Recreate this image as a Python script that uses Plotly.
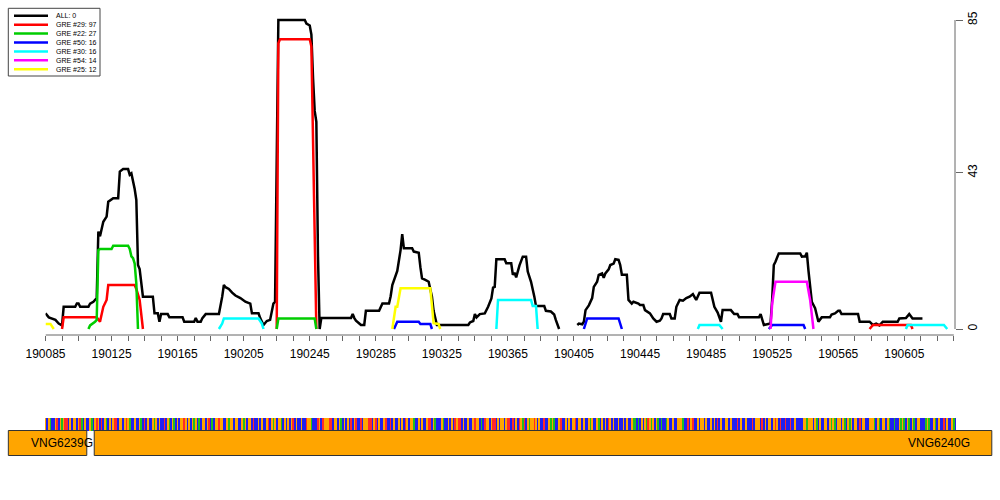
import plotly.graph_objects as go

# ---------------- data ----------------
all_x = [190085,190087,190091,190093,190095,190096,190103,190104,190105,190106,
         190111,190112,190114,190116,190117,190118,190119,190120,190122,190123,
         190126,190129,190130,190132,190135,190136,190137,190138,190139,190140,
         190141,190142,190144,190150,190151,190153,190154,190155,190159,190160,
         190168,190169,190175,190176,190177,190179,190180,190182,190190,190192,
         190193,190194,190196,190198,190200,190203,190206,190209,190210,190214,
         190215,190217,190219,190221,190222,190223,190224,190226,190242,190243,
         190245,190246,190247,190248,190249,190250,190251,190252,190270,190271,
         190272,190273,190275,190276,190278,190279,190287,190289,190293,190294,
         190295,190296,190298,190300,190301,190302,190307,190308,190311,190312,
         190313,190315,190317,190319,190320,190322,190341,190342,190344,190345,
         190346,190348,190351,190353,190355,190356,190357,190358,190363,190364,
         190367,190368,190369,190370,190372,190374,190376,190377,190379,190381,
         190382,190387,190388,190391,190393,190394,190395,190396,190400,190407,
         190408,190410,190411,190412,190414,190416,190417,190419,190420,190422,
         190423,190424,190426,190427,190429,190430,190432,190433,190434,190437,
         190438,190440,190441,190444,190445,190447,190448,190451,190453,190455,
         190457,190458,190459,190463,190464,190466,190467,190469,190471,190473,
         190475,190477,190478,190479,190481,190488,190490,190492,190494,190495,
         190500,190502,190504,190505,190517,190518,190520,190522,190524,190525,
         190526,190527,190529,190542,190543,190545,190546,190547,190549,190551,
         190553,190555,190560,190561,190563,190565,190566,190567,190570,190577,
         190578,190584,190586,190588,190590,190592,190601,190602,190606,190608,
         190610,190616]
all_y = [4.3,3.2,2.5,1.5,1.0,6.1,6.1,7.0,7.0,6.1,
         6.1,7.0,7.5,8.5,26.8,25.5,27.5,29.5,30.9,35.0,
         36.0,36.0,43.3,44.0,44.0,42.4,42.8,41.0,38.5,35.5,
         17.6,16.5,8.9,8.9,4.3,4.3,2.0,4.1,4.1,3.2,
         3.2,2.0,2.0,3.0,2.0,2.0,3.0,4.1,4.1,8.9,
         12.1,11.5,11.0,10.0,9.2,8.5,7.5,7.0,4.3,4.3,
         3.0,1.1,2.2,2.5,5.0,7.0,7.5,85,85,84,
         83.5,81,69,60,57,20,0,3.0,3.0,4.1,
         3.0,2.3,1.5,1.1,1.1,5.0,5.0,7.0,7.0,9.0,
         12.1,13.5,16.0,21.7,26.1,22.2,22.2,21.3,21.0,17.0,
         13.9,13.5,13.0,8.9,5.0,1.1,1.1,1.8,2.2,4.1,
         3.2,4.1,4.3,6.1,8.4,11.4,11.6,19.2,19.2,18.1,
         18.1,14.9,15.5,14.2,17.5,19.9,19.9,15.8,13.0,8.9,
         6.3,6.3,5.0,4.8,4.0,2.5,1.1,0,None,1.1,
         1.5,1.3,2.0,5.2,6.5,8.5,11.6,13.0,14.9,15.3,
         14.1,15.3,16.4,17.6,18.0,19.2,19.0,17.6,14.9,14.9,
         8.0,7.0,7.5,7.0,6.6,6.6,5.2,4.3,2.9,2.0,
         2.3,2.9,4.1,4.1,2.9,2.9,6.1,8.0,7.8,8.5,
         8.9,9.6,8.9,8.0,10.0,10.0,6.1,4.5,2.0,5.2,
         5.2,4.1,4.1,3.2,3.2,4.1,1.1,1.3,1.5,8.0,
         17.6,18.5,20.8,20.8,19.9,20.0,21.0,16.0,7.5,5.7,
         2.0,3.2,3.2,4.0,4.3,5.0,5.0,4.1,4.1,4.1,
         2.0,2.0,1.1,1.5,1.0,2.0,2.0,2.9,3.0,4.1,
         2.9,2.9]

gre29_x = [190095,190096,190116,190118,190120,190122,190123,190139,190140,190142,190144,
           190180,
           190225,190226,190227,190245,190246,190247,190249,
           190400,
           190584,190586,190606,190609,190610]
gre29_y = [0,3.2,3.2,2.0,6.1,8.0,12.1,12.1,11.0,8.0,0,
           None,
           0,78.6,79.7,79.7,77.7,51,0,
           None,
           0,1.1,1.1,1.1,0]

gre22_x = [190111,190112,190115,190116,190117,190118,190125,190126,190135,190136,
           190137,190138,190139,190140,190141,
           190180,
           190225,190226,190248,190249]
gre22_y = [0,1.0,2.0,2.5,21.7,22.0,22.0,22.9,22.9,22.0,
           20.0,19.5,18.0,12.5,0,
           None,
           0,2.9,2.9,0]

gre50_x = [190296,190298,190311,190312,190318,190319,
           190360,
           190411,190413,190432,190433,190434,
           190480,
           190523,190525,190544,190545]
gre50_y = [0,2.0,2.0,1.4,1.4,0,
           None,
           0,2.9,2.9,1.5,0,
           None,
           0,1.1,1.1,0]

gre30_x = [190190,190192,190193,190214,190216,190217,
           190300,
           190358,190359,190379,190380,190382,190383,
           190430,
           190480,190481,190493,190495,
           190550,
           190606,190607,190629,190631]
gre30_y = [0,1.5,2.9,2.9,1.5,0,
           None,
           0,8.0,8.0,6.3,6.3,0,
           None,
           0,1.1,1.1,0,
           None,
           0,1.1,1.1,0]

gre54_x = [190524,190525,190527,190546,190548,190550]
gre54_y = [0,7.0,13.0,13.0,8.0,0]

gre25_x = [190085,190088,190090,
           190200,
           190295,190297,190298,190300,190318,190319,190320,190323,190324]
gre25_y = [1.4,1.4,0,
           None,
           0,6.1,6.1,11.2,11.2,6.0,1.6,1.4,0]

series_names = ["ALL: 0", "GRE #29: 97", "GRE #22: 27", "GRE #50: 16",
                "GRE #30: 16", "GRE #54: 14", "GRE #25: 12"]
series_colors = ["#000000", "#FF0000", "#00CD00", "#0000FF",
                 "#00FFFF", "#FF00FF", "#FFFF00"]
series_x = [all_x, gre29_x, gre22_x, gre50_x, gre30_x, gre54_x, gre25_x]
series_y = [all_y, gre29_y, gre22_y, gre50_y, gre30_y, gre54_y, gre25_y]

y_ticks = [0, 43, 85]
x_tick_start, x_tick_end, x_tick_step, x_label_step = 190085, 190635, 10, 40

gene_names = ["VNG6239G", "VNG6240G"]
gene_start = [190062.5, 190114.5]
gene_end = [190110, 190658]
gene_label_x = [190095, 190626]

seq_start = 190085
sequence = ("GCGACCGTCGAGTTCGCGGCGTACGCCGACGTGCTCGACGCGTTCGGCGTGACCGCCGAC"
            "TCGCCGAGCGCCTCGACGACGCGGTGCGCGAGCACGGCGTCACGGTGGCCGAGGCGGCCG"
            "AGCGGCTCCGCGCCGTCGAGCGGACGCGCGTCGCCGCCTGGACCCTGCTGGGTTCGGCGA"
            "CGCGCTCGTCCTCGGGTTCGTCGCCGTCCTCGCCGCGCTGCGGACCGCGCCGTTCGACCC"
            "GACCGCGCTGTTCGCCGCCGTGGCACTGGCGTTCGCGGCGTTCTCGCTGATCGAGGTGCG"
            "CCTCCGAGACCGTCCGCGCGGTCGGCGCCGAGCCGACGCGCTGCGCCGCCGCGCCGAACA"
            "CGCGATGAGCGACACCAGCCGCCGGGACCTCGTCCGCGGCGCCGCGCTCGCCGGCGCCCT"
            "CGCCGCCCTCGGGCTCGCGGCGTGCTCCTCCTCCGCCCCGGAGGGCGACGCCGGCGAGAC"
            "GGCGACGAGCGGCTCGGCCGGGACGACGGCGACCACCGAGACGACGACGGCCCAGACCGA"
            "CGCCTCGCCGAC")
base_colors = {"A": "#1FBF1F", "C": "#2020F0", "G": "#FFA500", "T": "#FF2A2A"}

# ---------------- figure ----------------
FONT = "Liberation Sans, Arial, Helvetica, sans-serif"
W, H = 1000, 500
px_per_unit = 1.6515
x_left_px, x_right_px = 45.5, 955.0

fig = go.Figure()

for xs, ys, c in zip(series_x, series_y, series_colors):
    fig.add_trace(go.Scatter(x=xs, y=ys, mode="lines",
                             line=dict(color=c, width=2.5),
                             connectgaps=False, hoverinfo="skip",
                             xaxis="x", yaxis="y"))

# sequence strip
seq_x = [seq_start + i for i in range(len(sequence))]
fig.add_trace(go.Bar(x=seq_x, y=[12.5] * len(sequence), base=25.5, width=1,
                     marker=dict(color=[base_colors[b] for b in sequence],
                                 line=dict(width=0)),
                     hoverinfo="skip", xaxis="x2", yaxis="y2"))

# genes
fig.add_trace(go.Bar(orientation="h", y=[13, 13],
                     x=[e - s for s, e in zip(gene_start, gene_end)],
                     base=gene_start, width=[25, 25],
                     marker=dict(color="#FFA500", line=dict(color="#333333", width=1)),
                     hoverinfo="skip", xaxis="x2", yaxis="y2"))

tickvals = list(range(x_tick_start, x_tick_end + 1, x_tick_step))
ticktext = [str(v) if (v - x_tick_start) % x_label_step == 0 else "" for v in tickvals]

x_range = [x_tick_start, x_tick_start + (x_right_px - x_left_px) / px_per_unit]
x2_range = [x_tick_start - x_left_px / px_per_unit,
            x_tick_start + (W - x_left_px) / px_per_unit]

y_top_px, y_bot_px = 16.36, 335.0

shapes = [
    dict(type="line", xref="x", yref="paper", x0=x_tick_start, x1=x_tick_end,
         y0=1 - y_bot_px / H, y1=1 - y_bot_px / H, line=dict(color="#666666", width=1)),
    dict(type="line", xref="paper", yref="y", x0=x_right_px / W, x1=x_right_px / W,
         y0=0, y1=85, line=dict(color="#666666", width=1)),
    # legend box
    dict(type="rect", xref="paper", yref="paper", x0=8.3 / W, x1=100 / W,
         y0=1 - 76 / H, y1=1 - 8.3 / H, line=dict(color="#444444", width=1),
         fillcolor="white"),
]
annotations = []
for i, (name, c) in enumerate(zip(series_names, series_colors)):
    ypx = 15.7 + i * 8.93
    shapes.append(dict(type="line", xref="paper", yref="paper",
                       x0=14 / W, x1=48 / W, y0=1 - ypx / H, y1=1 - ypx / H,
                       line=dict(color=c, width=2.5)))
    annotations.append(dict(xref="paper", yref="paper", x=54 / W, y=1 - ypx / H,
                            text=name, showarrow=False, xanchor="left", yanchor="middle",
                            font=dict(size=7, color="#000000", family=FONT)))

for name, gx in zip(gene_names, gene_label_x):
    annotations.append(dict(xref="x2", yref="y2", x=gx, y=13, text=name,
                            showarrow=False, xanchor="center", yanchor="middle",
                            font=dict(size=12, color="#000000", family=FONT)))

fig.update_layout(
    template="none",
    width=W, height=H, autosize=False,
    margin=dict(l=0, r=0, t=0, b=0, pad=0, autoexpand=False),
    paper_bgcolor="white", plot_bgcolor="rgba(0,0,0,0)",
    showlegend=False,
    font=dict(family=FONT, size=12, color="#000000"),
    xaxis=dict(domain=[x_left_px / W, x_right_px / W], range=x_range,
               tickvals=tickvals, ticktext=ticktext, ticks="outside", ticklen=5,
               tickcolor="#666666", tickwidth=1, showline=False, showgrid=False,
               zeroline=False, anchor="y", automargin=False, ticklabelstandoff=3,
               tickfont=dict(size=12, family=FONT)),
    yaxis=dict(domain=[1 - y_bot_px / H, 1 - y_top_px / H], range=[-1.65, 86],
               side="right", anchor="x", tickvals=y_ticks,
               ticktext=[str(v) for v in y_ticks], ticks="outside", ticklen=7,
               tickcolor="#666666", tickangle=-90, showline=False, showgrid=False,
               zeroline=False, automargin=False, tickfont=dict(size=12, family=FONT)),
    xaxis2=dict(domain=[0, 1], range=x2_range, anchor="y2", visible=False,
                automargin=False),
    yaxis2=dict(domain=[1 - 456 / H, 1 - 417 / H], range=[0, 39], anchor="x2",
                visible=False, automargin=False),
    shapes=shapes, annotations=annotations,
    bargap=0,
)

fig.write_html("out.html",
               config={"displayModeBar": False, "staticPlot": True},
               post_script="document.body.style.margin='0';"
                           "document.body.style.overflow='hidden';")
